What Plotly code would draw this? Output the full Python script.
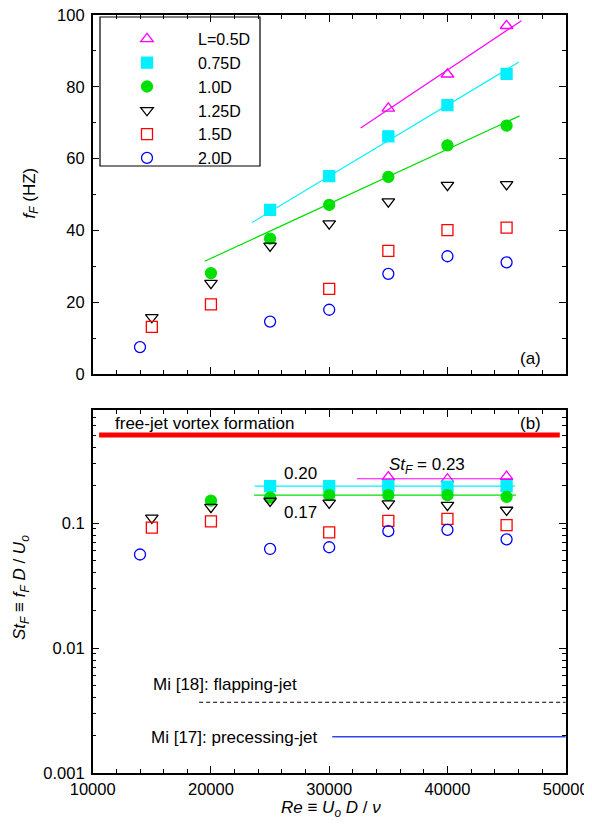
import plotly.graph_objects as go
from plotly.subplots import make_subplots

# ---- panel (a): flapping frequency f_F (Hz) vs Re ----
re_05 = [35000, 40000, 45000]
f_05 = [74.0, 83.5, 97.0]
re_075 = [25000, 30000, 35000, 40000, 45000]
f_075 = [45.7, 55.1, 66.2, 74.9, 83.6]
re_10 = [20000, 25000, 30000, 35000, 40000, 45000]
f_10 = [28.1, 37.7, 47.1, 54.9, 63.7, 69.2]
re_125 = [15000, 20000, 25000, 30000, 35000, 40000, 45000]
f_125 = [15.8, 25.3, 35.7, 41.9, 48.0, 52.6, 52.8]
re_15 = [15000, 20000, 30000, 35000, 40000, 45000]
f_15 = [13.1, 19.4, 23.7, 34.3, 40.1, 40.8]
re_20 = [14000, 25000, 30000, 35000, 40000, 45000]
f_20 = [7.5, 14.6, 17.9, 27.9, 32.8, 31.1]

# linear fits drawn in (a)
fit_05_re = [32660, 46250]
fit_05_f = [68.5, 98.4]
fit_075_re = [23480, 46050]
fit_075_f = [42.2, 86.9]
fit_10_re = [19470, 46100]
fit_10_f = [31.4, 71.9]

# ---- panel (b): Strouhal number St_F vs Re ----
st_05 = [0.233, 0.224, 0.235]
st_075 = [0.197, 0.197, 0.197, 0.195, 0.197]
st_10 = [0.151, 0.160, 0.167, 0.167, 0.167, 0.162]
st_125 = [0.110, 0.134, 0.150, 0.145, 0.143, 0.139, 0.127]
st_15 = [0.092, 0.103, 0.084, 0.104, 0.108, 0.096]
st_20 = [0.056, 0.062, 0.064, 0.086, 0.088, 0.074]

# constant St reference lines in (b)
st_023_re = [32350, 45500]
st_023 = [0.226, 0.226]
st_020_re = [23700, 45700]
st_020 = [0.197, 0.197]
st_017_re = [23650, 45800]
st_017 = [0.167, 0.167]
freejet_re = [10540, 49500]
freejet_st = [0.506, 0.506]
mi18_re = [19000, 50000]
mi18_st = [0.00368, 0.00368]
mi17_re = [30260, 50000]
mi17_st = [0.00195, 0.00195]

names = ['L=0.5D', '0.75D', '1.0D', '1.25D', '1.5D', '2.0D']
colors = ['#ff00ff', '#00f0ff', '#00e000', '#000000', '#ff0000', '#0000ff']
symbols = ['triangle-up-open', 'square', 'circle', 'triangle-down-open', 'square-open', 'circle-open']

W, H = 592, 830
OFF = 8  # page body margin
FONT = 'Liberation Sans, Arial, sans-serif'


def px_x(p):
    return (p - OFF) / W


def px_y(p):
    return 1 - (p - OFF) / H


fig = make_subplots(rows=2, cols=1)

top_sets = [(re_05, f_05), (re_075, f_075), (re_10, f_10), (re_125, f_125), (re_15, f_15), (re_20, f_20)]
bot_sets = [(re_05, st_05), (re_075, st_075), (re_10, st_10), (re_125, st_125), (re_15, st_15), (re_20, st_20)]

# fit lines first so the markers sit on top
for xs, ys, c in [(fit_05_re, fit_05_f, colors[0]), (fit_075_re, fit_075_f, colors[1]), (fit_10_re, fit_10_f, colors[2])]:
    fig.add_trace(go.Scatter(x=xs, y=ys, mode='lines', line=dict(color=c, width=1.2), showlegend=False), row=1, col=1)

for xs, ys, c in [(st_023_re, st_023, colors[0]), (st_020_re, st_020, colors[1]), (st_017_re, st_017, colors[2])]:
    fig.add_trace(go.Scatter(x=xs, y=ys, mode='lines', line=dict(color=c, width=1.2), showlegend=False), row=2, col=1)

fig.add_trace(go.Scatter(x=freejet_re, y=freejet_st, mode='lines', line=dict(color='#ff0000', width=5), showlegend=False), row=2, col=1)
fig.add_trace(go.Scatter(x=mi18_re, y=mi18_st, mode='lines', line=dict(color='black', width=1, dash='4px,3px'), showlegend=False), row=2, col=1)
fig.add_trace(go.Scatter(x=mi17_re, y=mi17_st, mode='lines', line=dict(color='#3344ee', width=1.5), showlegend=False), row=2, col=1)

nb = '\u00a0' * 7
for i in range(6):
    mk = dict(symbol=symbols[i], size=11, color=colors[i], line=dict(color=colors[i], width=1.3))
    xs, ys = top_sets[i]
    fig.add_trace(go.Scatter(x=xs, y=ys, mode='markers', marker=mk, name=nb + names[i]), row=1, col=1)
    xs, ys = bot_sets[i]
    fig.add_trace(go.Scatter(x=xs, y=ys, mode='markers', marker=mk, showlegend=False), row=2, col=1)

axis_common = dict(showline=True, mirror='allticks', linecolor='black', linewidth=1.5,
                   ticks='inside', ticklen=7, tickwidth=1.2, tickcolor='black',
                   showgrid=False, zeroline=False, automargin=False, ticklabeloverflow='allow')

fig.update_xaxes(axis_common, tickfont=dict(family=FONT, size=16.5, color='black'))
fig.update_yaxes(axis_common, ticklabelstandoff=3, tickfont=dict(family=FONT, size=16.5, color='black'))

fig.update_xaxes(range=[10000, 50000], dtick=10000, domain=[px_x(92.7), px_x(565.7)],
                 minor=dict(dtick=2000, ticks='inside', ticklen=4, tickcolor='black', showgrid=False))
fig.update_xaxes(showticklabels=False, row=1, col=1)
fig.update_xaxes(tickformat='d', row=2, col=1)

fig.update_yaxes(range=[0, 100], dtick=20, domain=[px_y(374), px_y(15)],
                 minor=dict(dtick=10, ticks='inside', ticklen=4, tickcolor='black', showgrid=False),
                 row=1, col=1)

minor_log = [m * 10 ** e for e in (-3, -2, -1) for m in range(2, 10)]
fig.update_yaxes(type='log', range=[-3, -0.096], domain=[px_y(773), px_y(410)],
                 tickvals=[0.001, 0.01, 0.1], ticktext=['0.001', '0.01', '0.1'],
                 minor=dict(tickvals=minor_log, ticks='inside', ticklen=4, tickcolor='black', showgrid=False),
                 row=2, col=1)

ann_font = dict(family=FONT, size=17, color='black')
annotations = [
    dict(text='(a)', x=47020, y=4.2, xref='x', yref='y', xanchor='center', yanchor='middle'),
    dict(text='(b)', x=47000, y=-0.2, xref='x2', yref='y2', xanchor='center', yanchor='middle'),
    dict(text='free-jet vortex formation', x=11700, y=-0.2, xref='x2', yref='y2', xanchor='left', yanchor='middle'),
    dict(text='0.20', x=26000, y=-0.6, xref='x2', yref='y2', xanchor='left', yanchor='middle'),
    dict(text='0.17', x=26000, y=-0.918, xref='x2', yref='y2', xanchor='left', yanchor='middle'),
    dict(text='<i>St<sub>F</sub></i> = 0.23', x=34900, y=-0.544, xref='x2', yref='y2', xanchor='left', yanchor='middle'),
    dict(text='Mi [18]: flapping-jet', x=14950, y=-2.288, xref='x2', yref='y2', xanchor='left', yanchor='middle'),
    dict(text='Mi [17]: precessing-jet', x=14800, y=-2.714, xref='x2', yref='y2', xanchor='left', yanchor='middle'),
    dict(text='<i>f<sub>F</sub></i> (HZ)', x=px_x(31), y=px_y(193.5), xref='paper', yref='paper', textangle=-90,
         xanchor='center', yanchor='middle'),
    dict(text='<i>St<sub>F</sub></i> \u2261 <i>f<sub>F</sub> D</i> / <i>U<sub>o</sub></i>', x=px_x(21), y=px_y(588),
         xref='paper', yref='paper', textangle=-90, xanchor='center', yanchor='middle'),
    dict(text='<i>Re</i> \u2261 <i>U<sub>o</sub> D</i> / <i>\u03bd</i>', x=px_x(331), y=px_y(809),
         xref='paper', yref='paper', xanchor='center', yanchor='middle'),
]
for a in annotations:
    a['showarrow'] = False
    a['font'] = ann_font
    fig.add_annotation(a)

# legend frame
fig.add_shape(type='rect', xref='paper', yref='paper', x0=px_x(100), x1=px_x(260), y0=px_y(166), y1=px_y(17),
              line=dict(color='black', width=1.2), fillcolor='white', layer='below')

fig.update_layout(
    width=W, height=H,
    margin=dict(l=0, r=0, t=0, b=0),
    paper_bgcolor='white', plot_bgcolor='white',
    font=dict(family=FONT, size=16, color='black'),
    legend=dict(x=px_x(127), y=px_y(22), xanchor='left', yanchor='top',
                bgcolor='rgba(0,0,0,0)', borderwidth=0, tracegroupgap=0,
                font=dict(family=FONT, size=16, color='black')),
)

fig.write_html('out.html')
